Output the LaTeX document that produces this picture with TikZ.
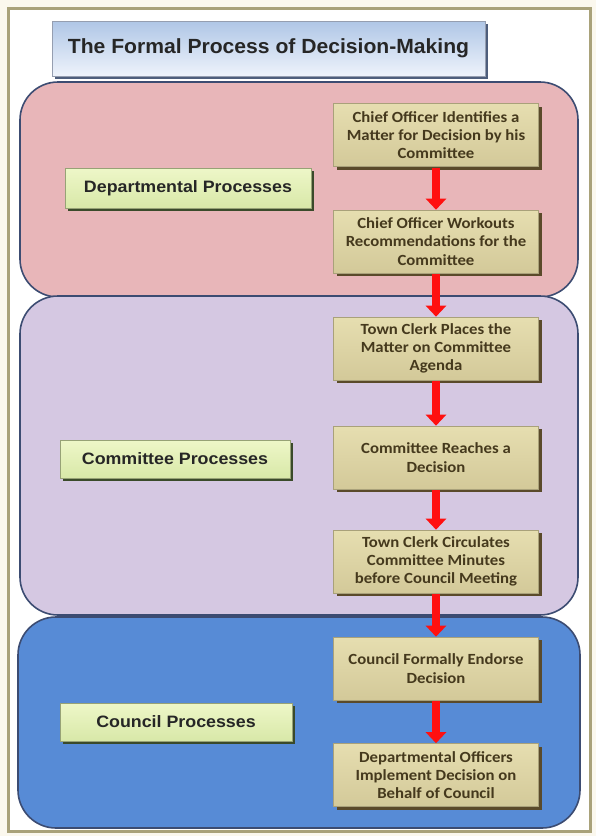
\documentclass[tikz,border=0pt]{standalone}
\usepackage{fontspec}
\setmainfont{Liberation Sans}
\newfontfamily\calib[FakeStretch=1.08]{Carlito}
\newfontfamily\arialw[FakeStretch=1.08]{Liberation Sans}
\newfontfamily\arialt[FakeStretch=1.03]{Liberation Sans}
\usetikzlibrary{shadows,arrows.meta}
\definecolor{cream}{HTML}{FBF8EE}
\definecolor{framecol}{HTML}{A9A27A}
\definecolor{pinkreg}{HTML}{E8B6B9}
\definecolor{purpreg}{HTML}{D5C8E2}
\definecolor{bluereg}{HTML}{578BD6}
\definecolor{regborder}{HTML}{3C4C72}
\definecolor{tantop}{HTML}{E6DEB0}
\definecolor{tanbot}{HTML}{D3C999}
\definecolor{tanshadow}{HTML}{5A4A2A}
\definecolor{tantext}{HTML}{45391D}
\definecolor{greentop}{HTML}{EEF7C8}
\definecolor{greenbot}{HTML}{D8E8A8}
\definecolor{greenshadow}{HTML}{3A4A2A}
\definecolor{titletop}{HTML}{AFC6E6}
\definecolor{titlebot}{HTML}{EEF3FB}
\definecolor{titleshadow}{HTML}{4E5E7C}
\definecolor{arrowred}{HTML}{FF1010}
\tikzset{
  region/.style={draw=regborder, line width=1.6pt, rounded corners=38pt},
  stepbox/.style={rectangle, minimum width=205pt, minimum height=63pt, inner sep=2pt,
    top color=tantop, bottom color=tanbot, draw=tanbot!80!black, line width=0.6pt,
    general shadow={shadow xshift=3pt, shadow yshift=-3pt, fill=tanshadow},
    align=center, text=tantext, font=\calib\bfseries\fontsize{15.5}{18.3}\selectfont},
  labelbox/.style={rectangle, inner sep=0pt, top color=greentop, bottom color=greenbot,
    draw=greenbot!70!black, line width=0.6pt,
    general shadow={shadow xshift=3pt, shadow yshift=-3pt, fill=greenshadow},
    text=black!85, font=\arialw\bfseries\fontsize{16.5}{19}\selectfont},
  redarrow/.style={draw=arrowred, line width=8pt, -{Triangle[width=20pt,length=11pt]}}
}
\begin{document}
\begin{tikzpicture}[x=1pt,y=-1pt]
\useasboundingbox (0,0) rectangle (596,836);
\fill[cream] (0,0) rectangle (596,836);
\fill[white] (8,8) rectangle (590,831);
\draw[framecol, line width=3pt] (8,8) rectangle (590,831);
% title
\node[rectangle, minimum width=433pt, minimum height=55pt, inner sep=0pt,
  top color=titletop, bottom color=titlebot, draw=titleshadow!60, line width=0.6pt,
  general shadow={shadow xshift=3pt, shadow yshift=-3pt, fill=titleshadow},
  font=\arialt\bfseries\fontsize{20.5}{24}\selectfont, text=black!85] (title) at (268.5,48.5)
  {The Formal Process of Decision-Making};
% regions
\path[region, fill=pinkreg] (20,82) rectangle (578,297);
\path[region, fill=purpreg] (20,296) rectangle (578,615);
\path[region, fill=bluereg] (18,617) rectangle (580,828);
% label boxes
\node[labelbox, minimum width=246pt, minimum height=40pt] (dept) at (188,188) {Departmental Processes};
\node[labelbox, minimum width=230pt, minimum height=38pt] (comm) at (175,459) {Committee Processes};
\node[labelbox, minimum width=232pt, minimum height=38pt] (coun) at (176,722) {Council Processes};
% steps
\node[stepbox] (b1) at (436,135) {Chief Officer Identifies a\\Matter for Decision by his\\Committee};
\node[stepbox] (b2) at (436,241.5) {Chief Officer Workouts\\Recommendations for the\\Committee};
\node[stepbox] (b3) at (436,348.5) {Town Clerk Places the\\Matter on Committee\\Agenda};
\node[stepbox] (b4) at (436,457.5) {Committee Reaches a\\Decision};
\node[stepbox] (b5) at (436,561.5) {Town Clerk Circulates\\Committee Minutes\\before Council Meeting};
\node[stepbox] (b6) at (436,668.5) {Council Formally Endorse\\Decision};
\node[stepbox] (b7) at (436,775) {Departmental Officers\\Implement Decision on\\Behalf of Council};
% arrows
\foreach \a/\b in {b1/b2,b2/b3,b3/b4,b4/b5,b5/b6,b6/b7}
  \draw[redarrow] ([yshift=-1pt]\a.south) -- (\b.north);
\end{tikzpicture}
\end{document}
